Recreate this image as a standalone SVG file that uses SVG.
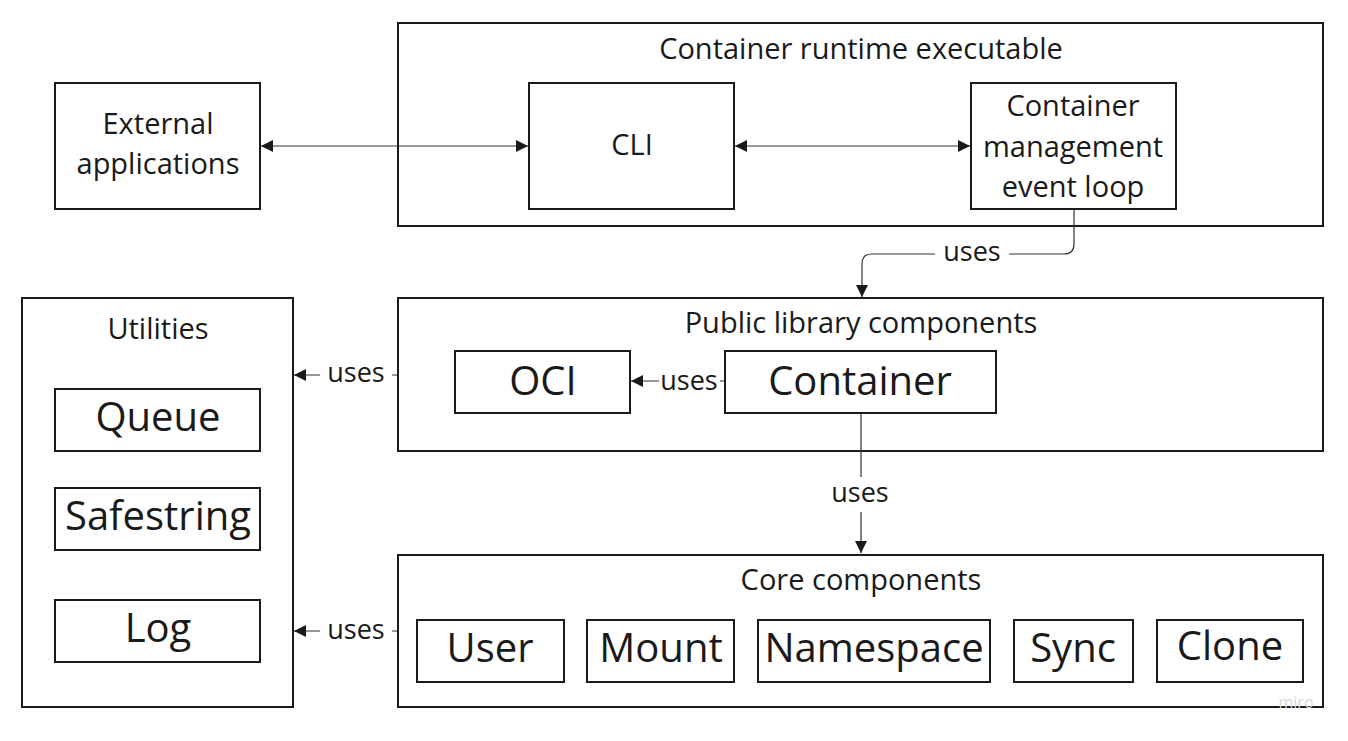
<svg xmlns="http://www.w3.org/2000/svg" width="1348" height="741" viewBox="0 0 1348 741">
<style>
.box{fill:#fff;stroke:#1a1a1a;stroke-width:2}
.t{font-family:"Open Sans","Noto Sans",sans-serif;fill:#1a1a1a;text-anchor:middle}
.s26{font-size:29px}
.s40{font-size:40px}
.c{fill:none;stroke:#333;stroke-width:1.2}
.lbl{font-family:"Open Sans","Noto Sans",sans-serif;fill:#1a1a1a;font-size:27px;text-anchor:middle}
</style>
<defs>
<marker id="ah" viewBox="0 0 12 12" refX="12" refY="6" markerWidth="12" markerHeight="12" markerUnits="userSpaceOnUse" orient="auto-start-reverse">
<path d="M0,0 L12,6 L0,12 Z" fill="#1a1a1a"/>
</marker>
</defs>
<rect width="1348" height="741" fill="#fff"/>
<g id="runtime"><rect class="box" x="398" y="23" width="925" height="203"/><text class="t s26" x="861" y="59">Container runtime executable</text></g>
<g id="external"><rect class="box" x="55" y="83" width="205" height="126"/><text class="t s26" x="158" y="134">External</text><text class="t s26" x="158" y="174">applications</text></g>
<g id="cli"><rect class="box" x="529" y="83" width="205" height="126"/><text class="t s26" x="632" y="155">CLI</text></g>
<g id="cmel"><rect class="box" x="971" y="83" width="205" height="126"/><text class="t s26" x="1073" y="116">Container</text><text class="t s26" x="1073" y="157">management</text><text class="t s26" x="1073" y="197">event loop</text></g>
<g id="public"><rect class="box" x="398" y="298" width="925" height="153"/><text class="t s26" x="861" y="333">Public library components</text></g>
<g id="oci"><rect class="box" x="455" y="351" width="175" height="62"/><text class="t s40" x="543" y="395">OCI</text></g>
<g id="container"><rect class="box" x="725" y="351" width="271" height="62"/><text class="t s40" x="860" y="395">Container</text></g>
<g id="utilities"><rect class="box" x="22" y="298" width="271" height="409"/><text class="t s26" x="158" y="339">Utilities</text></g>
<g id="queue"><rect class="box" x="55" y="389" width="205" height="62"/><text class="t s40" x="158" y="431">Queue</text></g>
<g id="safestring"><rect class="box" x="55" y="488" width="205" height="62"/><text class="t s40" x="158" y="530">Safestring</text></g>
<g id="log"><rect class="box" x="55" y="600" width="205" height="62"/><text class="t s40" x="158" y="642">Log</text></g>
<g id="core"><rect class="box" x="398" y="555" width="925" height="152"/><text class="t s26" x="861" y="590">Core components</text></g>
<g id="user"><rect class="box" x="417" y="620" width="147" height="62"/><text class="t s40" x="490" y="662">User</text></g>
<g id="mount"><rect class="box" x="587" y="620" width="147" height="62"/><text class="t s40" x="661" y="662">Mount</text></g>
<g id="namespace"><rect class="box" x="758" y="620" width="232" height="62"/><text class="t s40" x="874" y="662">Namespace</text></g>
<g id="sync"><rect class="box" x="1014" y="620" width="119" height="62"/><text class="t s40" x="1073" y="662">Sync</text></g>
<g id="clone"><rect class="box" x="1157" y="620" width="146" height="62"/><text class="t s40" x="1230" y="660">Clone</text></g>
<g id="connectors">
<line class="c" x1="261" y1="146" x2="528" y2="146" marker-start="url(#ah)" marker-end="url(#ah)"/>
<line class="c" x1="735" y1="146" x2="970" y2="146" marker-start="url(#ah)" marker-end="url(#ah)"/>
<path class="c" d="M1074,210 V244 Q1074,254 1064,254 H1009 M935,254 H872 Q862,254 862,264 V297" marker-end="url(#ah)"/>
<text class="lbl" x="972" y="261">uses</text>
<path class="c" d="M724,381 H720 M659,381 H631" marker-end="url(#ah)"/>
<text class="lbl" x="689" y="390">uses</text>
<path class="c" d="M397,375 H392 M320,375 H294" marker-end="url(#ah)"/>
<text class="lbl" x="356" y="382">uses</text>
<path class="c" d="M397,631 H392 M320,631 H294" marker-end="url(#ah)"/>
<text class="lbl" x="356" y="639">uses</text>
<path class="c" d="M861,414 V477 M861,512 V553" marker-end="url(#ah)"/>
<text class="lbl" x="860" y="502">uses</text>
</g>
<text x="1296" y="708" font-family="Open Sans,sans-serif" font-size="16" fill="#d8d8d8" text-anchor="middle">miro</text>
</svg>
